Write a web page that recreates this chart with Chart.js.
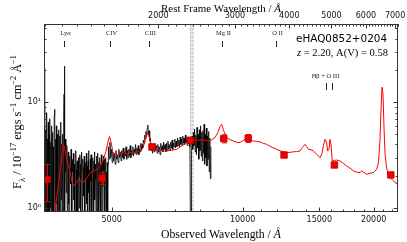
<!DOCTYPE html>
<html>
<head>
<meta charset="utf-8">
<script src="https://cdn.jsdelivr.net/npm/chart.js@4.4.0/dist/chart.umd.min.js"></script>
<style>
  html, body { margin: 0; padding: 0; background: #fff; }
  canvas { display: block; }
</style>
</head>
<body>
<canvas id="spec" width="407" height="242"></canvas>
<script>
const redshift = 2.20;
const xMin = 3496, xMax = 22750;
const yMin = 0.92, yMax = 55;

// observed spectrum (black)
const specWave = [3496,3505,3512,3520,3528,3536,3545,3553,3560,3568,3576,3584,3592,3600,3608,3616,3624,3632,3640,3648,
  3656,3664,3672,3680,3690,3700,3708,3716,3724,3732,3740,3748,3756,3764,3772,3780,3790,3800,3810,3820,
  3830,3840,3850,3860,3870,3880,3888,3893,3898,3906,3915,3925,3935,3945,3955,3965,3975,3985,3995,4005,
  4015,4025,4035,4045,4055,4065,4075,4085,4095,4105,4115,4125,4135,4145,4155,4165,4175,4185,4195,4205,
  4215,4225,4235,4245,4255,4265,4275,4285,4295,4305,4315,4325,4335,4345,4355,4365,4375,4385,4395,4405,
  4415,4425,4435,4445,4455,4465,4475,4485,4495,4505,4515,4525,4535,4545,4555,4565,4575,4585,4595,4605,
  4615,4625,4635,4645,4655,4665,4675,4685,4695,4705,4715,4725,4735,4745,4755,4765,4775,4785,4795,4805,
  4815,4825,4835,4845,4855,4865,4875,4885,4895,4905,4915,4935,4955,4975,4995,5015,5035,5055,5075,5095,
  5115,5135,5155,5175,5195,5215,5235,5255,5275,5295,5315,5335,5355,5375,5395,5415,5435,5455,5475,5495,
  5515,5535,5555,5575,5595,5615,5635,5655,5675,5695,5715,5735,5755,5775,5795,5815,5835,5855,5875,5895,
  5915,5935,5955,5975,5995,6015,6035,6055,6075,6095,6115,6135,6160,6185,6210,6235,6260,6285,6310,6335,
  6360,6385,6410,6435,6460,6485,6510,6535,6560,6585,6610,6635,6660,6685,6710,6735,6760,6785,6810,6835,
  6860,6885,6910,6935,6960,6985,7010,7035,7060,7085,7110,7135,7160,7185,7210,7235,7260,7285,7310,7335,
  7360,7385,7410,7435,7460,7485,7510,7540,7565,7590,7610,7630,7655,7680,7705,7730,7755,7780,7805,7830,
  7855,7880,7905,7930,7955,7980,8005,8030,8055,8080,8105,8130,8155,8180,8205,8230,8255,8280,8305,8330,
  8355,8380,8405,8430,8455];
const specFlux = [21,0.4,12.4,0.5,5.5,0.3,8.0,1.2,4.5,0.3,6.5,0.6,5.0,0.3,7.0,1.0,4.2,0.3,6.0,0.8,
  5.2,0.4,3.8,0.3,7.5,8.6,0.5,4.5,0.3,6.0,1.1,5.0,0.4,3.5,0.3,5.5,0.9,4.8,0.3,6.5,
  1.2,4.0,0.4,5.0,0.6,7.0,12,22,3.0,0.5,4.5,2.2,1.4,3.9,0.6,2.8,3.4,1.1,0.4,3.1,
  2.4,1.7,3.6,0.7,0.3,2.9,2.2,3.3,1.2,2.6,0.5,1.9,3.5,2.3,0.8,2.8,1.5,0.35,3.0,2.0,
  1.0,3.2,2.6,0.45,2.2,3.4,1.6,0.7,2.9,2.4,1.3,3.1,0.5,0.3,2.7,1.9,3.3,1.1,2.5,0.6,
  2.8,3.5,1.4,2.3,0.4,2.9,1.8,3.2,2.5,0.7,1.5,3.0,2.2,0.35,2.8,3.4,1.2,2.6,1.9,0.6,
  3.1,2.4,0.8,3.3,1.7,2.7,0.4,2.2,3.0,1.4,2.6,0.9,3.2,2.1,0.5,2.8,1.6,3.1,2.3,1.0,
  2.9,0.6,2.5,3.0,1.3,2.2,0.4,2.7,0.3,2.6,3.8,2.9,4.2,3.0,3.6,2.7,3.4,2.8,3.3,2.6,
  3.5,2.9,3.2,2.7,3.6,3.0,3.4,2.8,3.5,3.0,3.7,2.9,3.4,3.1,3.8,2.9,3.5,3.0,3.6,3.1,
  3.9,3.0,3.5,3.2,3.8,3.1,3.6,3.3,4.0,3.2,3.7,3.3,3.9,3.2,3.6,3.4,4.1,3.5,4.0,3.7,
  4.4,4.1,4.9,4.5,5.3,4.7,5.7,6.1,5.0,5.4,4.3,4.6,3.5,4.0,3.3,3.9,3.4,4.1,3.5,3.9,
  3.3,4.0,3.4,3.8,3.2,4.1,3.5,3.9,3.4,4.2,3.6,4.0,3.4,4.1,3.5,4.3,3.6,4.0,3.5,4.2,
  3.7,4.4,3.6,4.1,3.8,4.5,3.7,4.3,3.8,4.6,3.9,4.4,3.8,4.7,4.0,4.5,3.9,4.8,4.1,4.6,
  4.0,4.9,4.2,4.5,3.9,4.7,4.1,4.6,3.8,0.5,0.3,3.5,4.8,3.6,5.2,3.9,5.6,3.4,4.9,3.2,
  5.8,3.7,5.0,2.9,5.5,3.5,6.0,3.1,5.2,2.8,5.4,3.3,6.2,2.6,5.0,3.0,5.7,2.5,4.8,2.9,
  5.3,2.2,4.6,1.9,3.8];

// fitted model (red)
const modelWave = [3600,3644,3704,3760,3819,3870,3896,3945,4009,4052,4096,4140,4205,4273,4341,4411,4481,4553,4626,4700,
  4775,4851,4903,4942,4981,5043,5133,5224,5313,5420,5508,5605,5718,5808,5900,5980,6045,6090,6180,6255,
  6345,6490,6690,6844,7055,7217,7437,7651,7979,8235,8413,8640,8776,8870,8950,9036,9189,9353,9521,9694,
  9862,10035,10216,10397,10580,10772,10964,11157,11359,11561,11744,11975,12186,12401,12625,12849,13073,13310,13545,13726,
  13911,14020,14155,14360,14534,14799,15062,15221,15341,15463,15587,15687,15793,15876,15960,16072,16261,16450,16741,17036,
  17343,17649,17963,18288,18608,18774,18957,19278,19620,19964,20328,20521,20684,20796,20905,21016,21133,21245,21414,21585,
  21815,22105,22398,22845];
const modelFlux = [0.45,0.71,0.94,1.51,2.44,4.01,3.76,2.9,2.23,1.80,1.62,1.72,1.88,1.76,1.80,2.0,2.19,2.23,2.33,2.49,
  2.78,3.45,4.19,4.75,4.28,3.23,3.11,3.3,3.35,3.23,3.37,3.3,3.41,3.47,3.68,4.47,5.18,4.77,3.87,3.64,
  3.6,3.52,3.47,3.52,3.6,3.84,4.17,4.38,4.4,4.38,4.31,4.65,5.2,5.93,6.2,5.44,4.65,4.43,4.31,4.19,
  4.17,4.38,4.47,4.38,4.31,4.28,4.22,4.1,4.01,3.84,3.72,3.6,3.49,3.41,3.35,3.37,3.41,3.42,3.47,3.76,
  4.01,3.84,3.6,3.56,3.47,3.23,3.0,3.3,3.93,4.47,4.19,3.47,3.6,4.47,4.01,2.79,2.83,2.85,2.79,2.65,
  2.5,2.39,2.25,2.19,2.17,2.25,2.19,2.09,2.14,2.17,2.33,2.71,4.47,8.6,13.9,11.9,5.56,3.23,2.44,2.09,
  1.95,1.84,1.75,1.66];

// photometry (red squares)
const photWave = [3551, 4750, 6190, 7580, 9050, 10300, 12450, 16250, 21900];
const photFlux = [1.87, 1.92, 3.79, 4.38, 4.54, 4.57, 3.18, 2.56, 2.06];
const photErr  = [0.72, 0.25, 0.08, 0.10, 0.40, 0.40, 0.10, 0.12, 0.08];

// telluric band (observed frame)
const tellBand = [7570, 7712];

// emission line markers (rest frame)
const lineNames = ['Lyα', 'CIV', 'CIII', 'Mg II', 'O II'];
const lineRest = [1216, 1549, 1909, 2798, 3727];
const pairName = 'Hβ + O III';
const pairRest = [4861, 5007];

// ticks
const bottomTicks = [4000,5000,6000,7000,8000,9000,10000,11000,12000,13000,14000,15000,16000,17000,18000,19000,20000,21000,22000];
const bottomLabels = [5000, 10000, 15000, 20000];
const topTicks = [1100,1200,1300,1400,1500,1600,1700,1800,1900,2000,2100,2200,2300,2400,2500,2600,2700,2800,2900,3000,
  3100,3200,3300,3400,3500,3600,3700,3800,3900,4000,4100,4200,4300,4400,4500,4600,4700,4800,4900,5000,
  5100,5200,5300,5400,5500,5600,5700,5800,5900,6000,6100,6200,6300,6400,6500,6600,6700,6800,6900,7000,7100];
const topLabels = [2000, 3000, 4000, 5000, 6000, 7000];
const yTicks = [1,2,3,4,5,6,7,8,9,10,20,30,40,50];
const yLabels = { 1: '10⁰', 10: '10¹' };

const serif = '"Liberation Serif", "DejaVu Serif", serif';

function drawRich(ctx, parts, cx, cy, opts) {
    const fontOf = (p, s) => (p.it ? 'italic ' : '') + (s * (p.k || 1)).toFixed(2) + 'px ' + opts.family;
    const measure = s => parts.reduce((w, p) => {
        ctx.font = fontOf(p, s);
        return w + ctx.measureText(p.t).width;
    }, 0);
    let size = opts.size;
    if (opts.width) size = size * opts.width / measure(size);
    const total = measure(size);
    ctx.save();
    ctx.translate(cx, cy);
    if (opts.rot) ctx.rotate(opts.rot);
    ctx.fillStyle = opts.color || '#000';
    ctx.textAlign = 'left';
    ctx.textBaseline = 'alphabetic';
    let x = -total / 2;
    parts.forEach(p => {
        ctx.font = fontOf(p, size);
        ctx.fillText(p.t, x, size * 0.35 + (p.dy || 0) * size);
        x += ctx.measureText(p.t).width;
    });
    ctx.restore();
}

const decor = {
    id: 'decor',
    beforeDatasetsDraw(chart) {
        const { ctx, chartArea: a, scales: { x } } = chart;
        const x0 = x.getPixelForValue(tellBand[0]);
        const x1 = x.getPixelForValue(tellBand[1]);
        ctx.save();
        ctx.fillStyle = '#e4e4e4';
        ctx.fillRect(x0, a.top, x1 - x0, a.bottom - a.top);
        ctx.strokeStyle = '#bdbdbd';
        ctx.lineWidth = 1;
        ctx.setLineDash([2, 2]);
        [x0 + 0.5, x1 - 0.5].forEach(px => {
            ctx.beginPath();
            ctx.moveTo(px, a.top);
            ctx.lineTo(px, a.bottom);
            ctx.stroke();
        });
        ctx.restore();
    },
    afterDatasetsDraw(chart) {
        const { ctx, scales: { x, y } } = chart;
        ctx.save();
        ctx.strokeStyle = '#ee0000';
        ctx.lineWidth = 1;
        photWave.forEach((w, i) => {
            const px = Math.round(x.getPixelForValue(w)) + 0.5;
            const top = y.getPixelForValue(photFlux[i] + photErr[i]);
            const bot = y.getPixelForValue(photFlux[i] - photErr[i]);
            ctx.beginPath();
            ctx.moveTo(px, top); ctx.lineTo(px, bot);
            ctx.moveTo(px - 2.5, top); ctx.lineTo(px + 2.5, top);
            ctx.moveTo(px - 2.5, bot); ctx.lineTo(px + 2.5, bot);
            ctx.stroke();
        });
        ctx.restore();
    },
    afterDraw(chart) {
        const { ctx, chartArea: a, scales: { x, x2, y } } = chart;
        ctx.save();
        // frame
        ctx.strokeStyle = '#333';
        ctx.lineWidth = 1;
        ctx.strokeRect(a.left + 0.5, a.top + 0.5, a.right - a.left - 1, a.bottom - a.top - 1);
        // inward tick marks
        ctx.beginPath();
        bottomTicks.forEach(v => {
            const p = Math.round(x.getPixelForValue(v)) + 0.5;
            const len = bottomLabels.includes(v) ? 4.5 : 2.5;
            ctx.moveTo(p, a.bottom); ctx.lineTo(p, a.bottom - len);
        });
        topTicks.forEach(v => {
            const p = Math.round(x2.getPixelForValue(v)) + 0.5;
            const len = topLabels.includes(v) ? 4.5 : 2.5;
            ctx.moveTo(p, a.top); ctx.lineTo(p, a.top + len);
        });
        yTicks.forEach(v => {
            const p = Math.round(y.getPixelForValue(v)) + 0.5;
            const len = yLabels[v] ? 4.5 : 2.5;
            ctx.moveTo(a.left, p); ctx.lineTo(a.left + len, p);
            ctx.moveTo(a.right, p); ctx.lineTo(a.right - len, p);
        });
        ctx.stroke();

        // emission line markers
        ctx.fillStyle = '#222';
        ctx.strokeStyle = '#222';
        ctx.font = '6.5px ' + serif;
        ctx.textAlign = 'center';
        ctx.textBaseline = 'middle';
        ctx.beginPath();
        lineRest.forEach((r, i) => {
            const p = Math.round(x.getPixelForValue(r * (1 + redshift))) + 0.5;
            ctx.fillText(lineNames[i], p + 1, 33);
            ctx.moveTo(p, 41); ctx.lineTo(p, 47);
        });
        const pairPx = pairRest.map(r => Math.round(x.getPixelForValue(r * (1 + redshift))) + 0.5);
        ctx.fillText(pairName, (pairPx[0] + pairPx[1]) / 2 - 4, 76.5);
        pairPx.forEach(p => { ctx.moveTo(p, 83); ctx.lineTo(p, 90); });
        ctx.stroke();

        // object name and parameters
        ctx.fillStyle = '#000';
        ctx.font = '10.5px "DejaVu Sans", sans-serif';
        ctx.fillText('eHAQ0852+0204', 341.5, 39.5, 91);
        drawRich(ctx, [{ t: 'z', it: true }, { t: ' = 2.20, A(V) = 0.58' }], 342.5, 52.3,
            { family: serif, size: 9.5, width: 91 });

        // axis titles
        drawRich(ctx, [{ t: 'Rest Frame Wavelength / ' }, { t: 'Å', it: true }], (a.left + a.right) / 2, 8,
            { family: serif, size: 10.5, width: 120 });
        drawRich(ctx, [{ t: 'Observed Wavelength / ' }, { t: 'Å', it: true }], (a.left + a.right) / 2, 233.5,
            { family: serif, size: 10.5, width: 120 });
        drawRich(ctx, [
            { t: 'F' }, { t: 'λ', k: 0.72, dy: 0.28 }, { t: ' / 10' }, { t: '−17', k: 0.68, dy: -0.42 },
            { t: ' ergs s' }, { t: '−1', k: 0.68, dy: -0.42 }, { t: ' cm' }, { t: '−2', k: 0.68, dy: -0.42 },
            { t: ' Å' }, { t: '−1', k: 0.68, dy: -0.42 }
        ], 17, 122, { family: serif, size: 9.5, width: 134, rot: -Math.PI / 2 });
        ctx.restore();
    }
};

const tickFont = { family: '"DejaVu Sans", sans-serif', size: 8 };

new Chart(document.getElementById('spec'), {
    type: 'line',
    data: {
        datasets: [
            {
                label: 'spectrum',
                data: specWave.map((w, i) => ({ x: w, y: specFlux[i] })),
                borderColor: '#000',
                borderWidth: 0.8,
                pointRadius: 0,
                tension: 0,
                order: 3,
                clip: 0
            },
            {
                label: 'model',
                data: modelWave.map((w, i) => ({ x: w, y: modelFlux[i] })),
                borderColor: '#ff0000',
                borderWidth: 1,
                pointRadius: 0,
                tension: 0,
                order: 2,
                clip: 0
            },
            {
                label: 'photometry',
                data: photWave.map((w, i) => ({ x: w, y: photFlux[i] })),
                showLine: false,
                pointStyle: 'rect',
                pointRadius: 4.6,
                backgroundColor: '#ee0000',
                borderColor: '#b80000',
                borderWidth: 0.8,
                order: 1,
                clip: 0
            }
        ]
    },
    options: {
        responsive: false,
        animation: false,
        events: [],
        layout: { padding: { left: 0, right: 9, top: 0, bottom: 0 } },
        plugins: { legend: { display: false }, tooltip: { enabled: false } },
        scales: {
            x: {
                type: 'logarithmic',
                position: 'bottom',
                min: xMin, max: xMax,
                bounds: 'data',
                grid: { display: false, drawTicks: false },
                border: { display: false },
                afterBuildTicks: s => { s.ticks = bottomTicks.map(v => ({ value: v })); },
                afterFit: s => { s.height = 30; },
                ticks: {
                    autoSkip: false, maxRotation: 0, padding: 3, color: '#111', font: tickFont,
                    callback: v => bottomLabels.includes(v) ? String(v) : ''
                }
            },
            x2: {
                type: 'logarithmic',
                position: 'top',
                min: xMin / (1 + redshift), max: xMax / (1 + redshift),
                bounds: 'data',
                grid: { display: false, drawTicks: false },
                border: { display: false },
                afterBuildTicks: s => { s.ticks = topTicks.map(v => ({ value: v })); },
                afterFit: s => { s.height = 24; },
                ticks: {
                    autoSkip: false, maxRotation: 0, padding: 3, color: '#111', font: tickFont,
                    callback: v => topLabels.includes(v) ? String(v) : ''
                }
            },
            y: {
                type: 'logarithmic',
                position: 'left',
                min: yMin, max: yMax,
                bounds: 'data',
                grid: { display: false, drawTicks: false },
                border: { display: false },
                afterBuildTicks: s => { s.ticks = yTicks.map(v => ({ value: v })); },
                afterFit: s => { s.width = 44; },
                ticks: {
                    autoSkip: false, padding: 3, color: '#111', font: tickFont,
                    callback: v => yLabels[v] || ''
                }
            }
        }
    },
    plugins: [decor]
});
</script>
</body>
</html>
